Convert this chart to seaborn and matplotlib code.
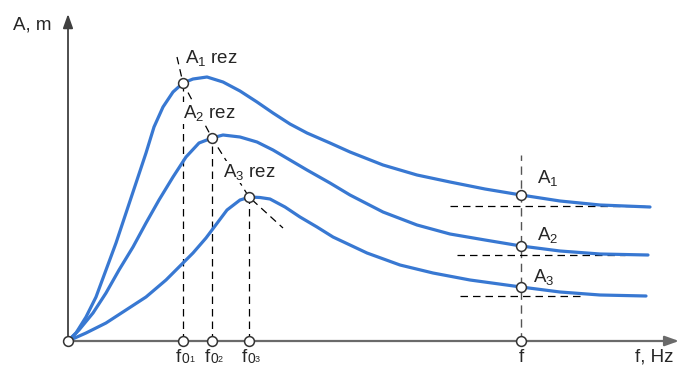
import numpy as np
import pandas as pd
import matplotlib
matplotlib.use("Agg")
import matplotlib.pyplot as plt
import seaborn as sns

# chart units: x = frequency, y = amplitude (origin at the axes crossing)
curve1_f = [0, 8, 18, 28, 38, 48, 58, 68, 78, 86, 95, 105, 115, 125, 139, 155, 172, 189, 205,
            222, 239, 262, 282, 315, 349, 382, 417, 453, 492, 532, 582]
curve1_a = [0, 8, 24, 44, 71, 98, 128, 158, 188, 214, 234, 249, 258, 262, 264, 259, 250, 239, 228,
            217, 208, 198, 189, 176, 166, 159, 152, 146, 140, 136, 134]

curve2_f = [0, 11, 25, 38, 51, 65, 78, 91, 105, 118, 131, 144, 155, 172, 189, 205, 222, 239,
            262, 282, 315, 349, 382, 417, 453, 492, 532, 580]
curve2_a = [0, 11, 28, 48, 71, 94, 118, 141, 164, 184, 198, 203, 206, 204, 199, 191, 181, 171,
            158, 146, 129, 116, 107, 101, 95, 90, 87, 86]

curve3_f = [0, 18, 38, 58, 78, 98, 115, 125, 138, 159, 172, 182, 192, 202, 217, 232, 249, 265,
            299, 332, 365, 402, 453, 492, 532, 578]
curve3_a = [0, 8, 18, 31, 44, 61, 78, 88, 103, 131, 141, 144, 143.5, 142, 134, 124, 114, 104,
            88, 76, 68, 61, 54, 49, 46, 45]

res_f = [115, 144, 181]
res_a = [258, 203, 144]
f_point = 453
f_values = [146, 95, 54]
asym_levels = [135, 86, 45]
asym_start = [382, 389, 392]
asym_end = [577, 557, 517]
diag_f = [109, 115, 144, 181, 215]
diag_a = [284, 258, 203, 144, 113]

res_labels = [r"A$\mathregular{_1}$ rez", r"A$\mathregular{_2}$ rez", r"A$\mathregular{_3}$ rez"]
res_label_pos = [(117, 283), (115, 228), (155, 169)]
f_labels = [r"A$\mathregular{_1}$", r"A$\mathregular{_2}$", r"A$\mathregular{_3}$"]
f_label_pos = [(469, 163), (469, 106), (465, 64)]
tick_index = ["1", "2", "3"]

sns.set_theme(style="white")
plt.rcParams["font.family"] = ["Liberation Sans", "DejaVu Sans"]
plt.rcParams["mathtext.fontset"] = "custom"
plt.rcParams["mathtext.rm"] = "Liberation Sans"
plt.rcParams["mathtext.it"] = "Liberation Sans"

df = pd.concat([
    pd.DataFrame({"f": curve1_f, "A": curve1_a, "curve": "1"}),
    pd.DataFrame({"f": curve2_f, "A": curve2_a, "curve": "2"}),
    pd.DataFrame({"f": curve3_f, "A": curve3_a, "curve": "3"}),
])

blue = "#3878D2"
fig = plt.figure(figsize=(6.79, 3.68), dpi=100)
ax = fig.add_axes([0, 0, 1, 1])
ax.set_xlim(-68, 611)
ax.set_ylim(-27, 341)
ax.axis("off")

sns.lineplot(data=df, x="f", y="A", hue="curve", palette=[blue] * 3, estimator=None,
             linewidth=2.3, legend=False, ax=ax, zorder=3)
for line in ax.get_lines():
    line.set_solid_joinstyle("round")

# axes with arrows
ax.annotate("", xy=(611, 0), xytext=(0, 0),
            arrowprops=dict(arrowstyle="-|>,head_length=0.7,head_width=0.25",
                            color="#6a6a6a", lw=1.6, shrinkA=0, shrinkB=0), zorder=2)
ax.annotate("", xy=(0, 327), xytext=(0, 0),
            arrowprops=dict(arrowstyle="-|>,head_length=0.7,head_width=0.25",
                            color="#404040", lw=1.3, shrinkA=0, shrinkB=0), zorder=2)

dash = dict(color="black", lw=0.9, dashes=(6, 4), zorder=1)
for fx, ay in zip(res_f, res_a):
    ax.plot([fx, fx], [0, ay], **dash)
ax.plot([f_point, f_point], [0, 186], color="#555555", lw=1.0, dashes=(6, 4), zorder=1)
for lvl, x0, x1 in zip(asym_levels, asym_start, asym_end):
    ax.plot([x0, x1], [lvl, lvl], **dash)
ax.plot(diag_f, diag_a, **dash)

mk = dict(s=50, facecolor="white", edgecolor="#333333", linewidth=1.1, zorder=5)
ax.scatter(res_f, res_a, **mk)
ax.scatter([f_point] * 3, f_values, **mk)
ax.scatter([0] + res_f + [f_point], [0] * 5, **mk)

fs = 13.5
box = dict(facecolor="white", edgecolor="none", pad=0.5)
ax.text(-55, 316, "A, m", fontsize=fs, ha="left", va="center")
for lab, (x, y) in zip(res_labels, res_label_pos):
    ax.text(x, y, lab, fontsize=fs, ha="left", va="center", bbox=box, zorder=4)
for lab, (x, y) in zip(f_labels, f_label_pos):
    ax.text(x, y, lab, fontsize=fs, ha="left", va="center")
# f0 tick labels: "f", subscript "0", tiny subscript index
for idx, x in zip(tick_index, res_f):
    ax.text(x - 7, -21, "f", fontsize=fs, ha="left", va="baseline")
    ax.text(x - 1.5, -22, "0", fontsize=10, ha="left", va="baseline")
    ax.text(x + 6, -21.5, idx, fontsize=6.5, ha="left", va="baseline")
ax.text(f_point, -21, "f", fontsize=fs, ha="center", va="baseline")
ax.text(567, -21, "f, Hz", fontsize=fs, ha="left", va="baseline")

fig.savefig("out.png", dpi=100)
